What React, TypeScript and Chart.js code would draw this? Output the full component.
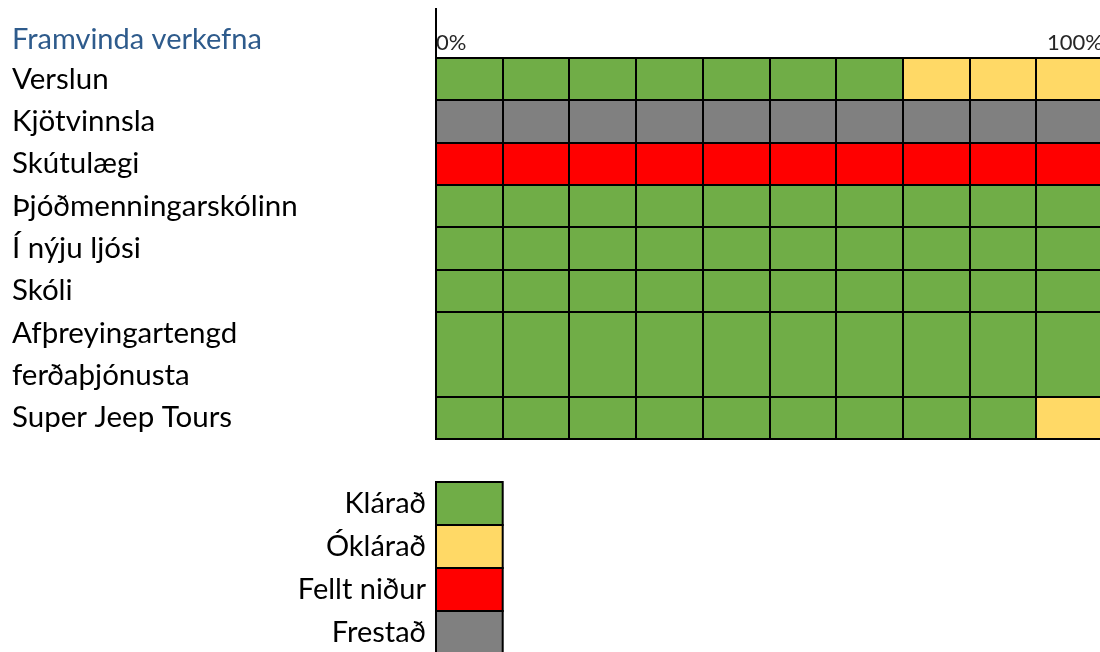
import { useEffect, useRef } from 'react';
import { Chart, registerables } from 'chart.js';

Chart.register(...registerables);

// ---- data ----
const chartTitle = 'Framvinda verkefna';
// a category given as an array is wrapped over several lines (one row per line)
const categories: (string | string[])[] = [
  'Verslun',
  'Kjötvinnsla',
  'Skútulægi',
  'Þjóðmenningarskólinn',
  'Í nýju ljósi',
  'Skóli',
  ['Afþreyingartengd', 'ferðaþjónusta'],
  'Super Jeep Tours',
];
const statusNames = ['Klárað', 'Óklárað', 'Fellt niður', 'Frestað'];
const statusColors = ['#70AD47', '#FFD966', '#FF0000', '#808080'];
// percent of each project per status
const klarad = [70, 0, 0, 100, 100, 100, 100, 90];
const oklarad = [30, 0, 0, 0, 0, 0, 0, 10];
const felltNidur = [0, 0, 100, 0, 0, 0, 0, 0];
const frestad = [0, 100, 0, 0, 0, 0, 0, 0];
const xTickValues = [0, 100];
const xTickLabels = ['0%', '100%'];

const FONT = 'Lato';

export default function App() {
  const ref = useRef<HTMLCanvasElement | null>(null);

  useEffect(() => {
    if (!ref.current) return;
    const series = [klarad, oklarad, felltNidur, frestad];

    const slotLabels: string[] = [];
    const slotCat: number[] = [];
    categories.forEach((c, i) => {
      const lines = Array.isArray(c) ? c : [c];
      lines.forEach((l) => {
        slotLabels.push(l);
        slotCat.push(i);
      });
    });
    const continuation = slotCat.map((c, j) => j > 0 && slotCat[j - 1] === c);

    const titlePlugin = {
      id: 'sideTitle',
      afterDraw(chart: any) {
        const { ctx, chartArea, scales } = chart;
        ctx.save();
        ctx.font = `29px ${FONT}`;
        ctx.fillStyle = '#2E5B8C';
        ctx.textAlign = 'left';
        ctx.textBaseline = 'alphabetic';
        ctx.fillText(chartTitle, scales.y.left, chartArea.top - 9);
        ctx.restore();
      },
    };

    const legendPlugin = {
      id: 'statusLegend',
      afterDraw(chart: any) {
        const { ctx, chartArea, scales } = chart;
        const x = scales.x;
        const boxW = x.getPixelForValue(10) - x.getPixelForValue(0);
        const boxH = 43;
        const left = chartArea.left;
        ctx.save();
        chart.data.datasets.forEach((ds: any, i: number) => {
          const top = chartArea.bottom + boxH * (i + 1);
          ctx.fillStyle = ds.backgroundColor;
          ctx.fillRect(left, top, boxW, boxH);
          ctx.strokeStyle = '#000';
          ctx.lineWidth = 2;
          ctx.strokeRect(left, top, boxW, boxH);
          ctx.fillStyle = '#000';
          ctx.font = `29px ${FONT}`;
          ctx.textAlign = 'right';
          ctx.textBaseline = 'middle';
          ctx.fillText(ds.label, left - 10, top + boxH / 2);
        });
        ctx.restore();
      },
    };

    const chart = new Chart(ref.current, {
      type: 'bar',
      data: {
        labels: slotLabels,
        datasets: series.map((vals, s) => ({
          label: statusNames[s],
          data: slotCat.map((c) => vals[c]),
          backgroundColor: statusColors[s],
          borderWidth: 0,
          barPercentage: 1,
          categoryPercentage: 1,
        })),
      },
      options: {
        indexAxis: 'y',
        responsive: false,
        animation: false,
        layout: { padding: { left: 12, top: 0, right: 0, bottom: 221 } },
        plugins: {
          legend: { display: false },
          tooltip: { enabled: false },
          title: { display: false },
        },
        scales: {
          x: {
            type: 'linear',
            position: 'top',
            min: 0,
            max: 100,
            stacked: true,
            afterFit: (s: any) => {
              s.height = 58;
            },
            border: { display: true, color: '#000', width: 2, z: 1 },
            grid: {
              color: '#000',
              lineWidth: 2,
              z: 1,
              drawTicks: true,
              tickLength: 50,
              tickWidth: 2,
              tickColor: (ctx: any) =>
                ctx.tick && ctx.tick.value === 0 ? '#000' : 'rgba(0,0,0,0)',
            },
            ticks: {
              stepSize: 10,
              autoSkip: false,
              maxRotation: 0,
              align: 'inner',
              padding: -48.5,
              color: '#262626',
              font: { family: FONT, size: 22 },
              callback: (v: any) => {
                const k = xTickValues.indexOf(Number(v));
                return k >= 0 ? xTickLabels[k] : '';
              },
            },
          },
          y: {
            type: 'category',
            stacked: true,
            offset: true,
            afterFit: (s: any) => {
              s.width = 424;
            },
            border: { display: true, color: '#000', width: 2, z: 1 },
            grid: {
              offset: true,
              drawTicks: false,
              lineWidth: 2,
              z: 1,
              color: (ctx: any) =>
                ctx.index !== undefined && continuation[ctx.index] ? 'rgba(0,0,0,0)' : '#000',
            },
            ticks: {
              autoSkip: false,
              crossAlign: 'far',
              color: '#000',
              font: { family: FONT, size: 29.5 },
            },
          },
        },
      },
      plugins: [titlePlugin, legendPlugin],
    } as any);

    return () => chart.destroy();
  }, []);

  return (
    <div
      style={{
        position: 'fixed',
        left: 0,
        top: 0,
        width: 1100,
        height: 652,
        overflow: 'hidden',
        background: '#fff',
      }}
    >
      <canvas ref={ref} width={1103} height={660} style={{ width: 1103, height: 660, display: 'block' }} />
    </div>
  );
}
